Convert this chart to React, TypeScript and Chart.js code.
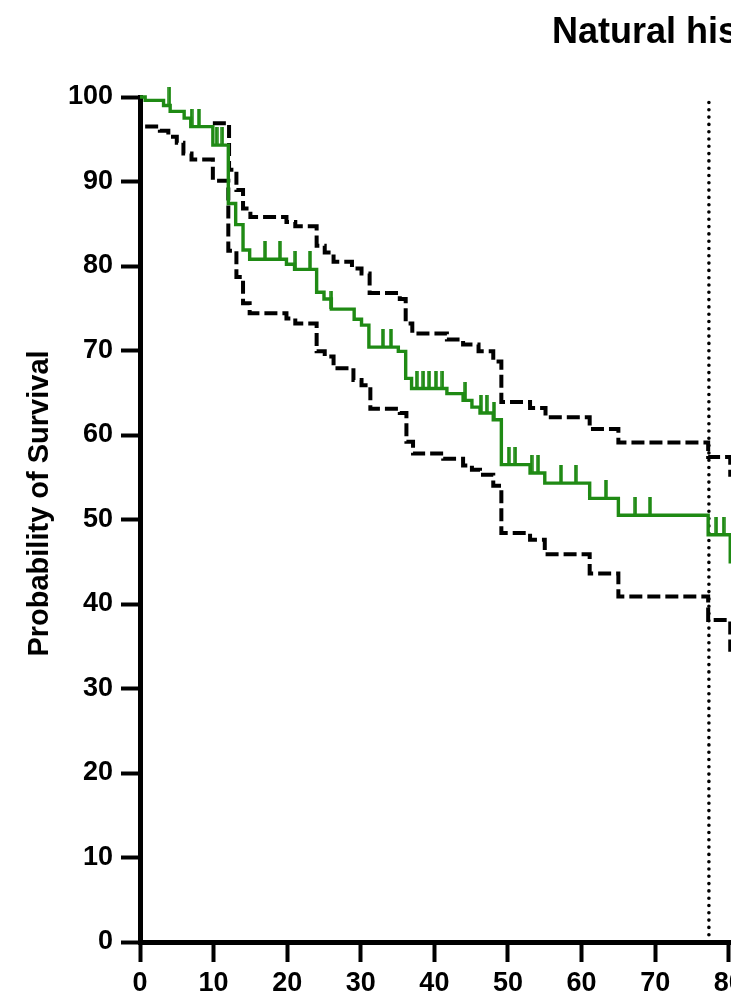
import { useEffect, useRef } from 'react';
import { Chart, registerables } from 'chart.js';

Chart.register(...registerables);

// ---- data ----
const titleText = 'Natural history';
const yAxisTitle = 'Probability of Survival';

const kmTimes = [0, 0.7, 3.2, 4.1, 6.0, 6.9, 9.9, 12.0, 13.0, 14.0, 14.9, 19.9, 21.0, 24.0, 25.0, 26.0, 29.1, 30.1, 31.1, 35.1, 36.1, 36.9, 41.7, 43.9, 45.1, 46.2, 48.0, 49.1, 53.0, 55.0, 61.1, 65.0, 77.2, 80.2, 85.0];
const kmSurvival = [100, 99.6, 99.0, 98.3, 97.5, 96.5, 94.3, 87.4, 84.9, 81.9, 80.8, 80.2, 79.6, 76.9, 76.1, 74.9, 73.7, 73.0, 70.4, 69.9, 66.7, 65.5, 64.9, 64.1, 63.3, 62.6, 61.8, 56.5, 55.5, 54.3, 52.5, 50.5, 48.2, 45.0, 45.0];

const upperTimes = [9.9, 12.1, 13.1, 14.0, 15.0, 19.9, 21.1, 24.0, 25.1, 26.3, 28.8, 30.1, 31.2, 35.3, 36.1, 37.0, 41.7, 43.9, 46.0, 48.0, 49.1, 53.0, 55.1, 61.1, 65.0, 77.2, 80.2, 85.0];
const upperValues = [96.9, 91.4, 89.0, 86.8, 85.8, 85.2, 84.7, 82.4, 81.6, 80.5, 79.7, 79.1, 76.8, 76.1, 73.2, 72.0, 71.3, 70.7, 69.9, 68.7, 63.9, 63.2, 62.1, 60.7, 59.1, 57.4, 55.3, 55.3];

const lowerTimes = [0.7, 2.7, 3.85, 5.0, 5.9, 7.0, 9.9, 12.0, 13.1, 14.0, 14.9, 19.9, 21.1, 24.0, 25.1, 26.3, 29.0, 30.1, 31.3, 35.3, 36.2, 37.1, 41.2, 43.9, 45.1, 46.2, 48.0, 49.1, 53.0, 55.0, 61.1, 65.0, 77.2, 80.2, 85.0];
const lowerValues = [96.5, 96.0, 95.3, 94.6, 93.3, 92.6, 90.1, 81.8, 78.7, 75.6, 74.4, 73.8, 73.2, 69.9, 69.3, 67.9, 66.5, 65.9, 63.1, 62.6, 59.2, 57.8, 57.2, 56.4, 55.9, 55.3, 54.0, 48.4, 47.6, 45.9, 43.6, 40.9, 38.1, 34.6, 34.6];

const censorTimes = [4.0, 7.0, 8.0, 10.4, 11.2, 17.0, 19.0, 21.1, 23.1, 26.0, 33.0, 34.1, 37.6, 38.5, 39.3, 40.2, 41.1, 44.2, 46.3, 47.1, 48.1, 50.1, 51.0, 53.2, 54.1, 57.2, 59.2, 63.3, 67.3, 69.3, 78.3, 79.3];

const referenceMonth = 77.3;
const yMin = 0;
const yMax = 100;
const tickStep = 10;

// ---- layout / style ----
const FONT = "Arial, 'Liberation Sans', Helvetica, sans-serif";
const GREEN = '#1f8a14';
const HEIGHT = 1001;
const VISIBLE_WIDTH = 731;
const PLOT_LEFT = 140;
const PX_PER_MONTH = 7.36;
const TITLE_LEFT = 552;

function survivalAt(t: number): number {
  let v = kmSurvival[0];
  for (let i = 0; i < kmTimes.length; i++) {
    if (kmTimes[i] <= t) v = kmSurvival[i];
  }
  return v;
}

const yTitlePlugin = {
  id: 'yTitle',
  afterDraw(chart: any) {
    const { ctx, chartArea } = chart;
    ctx.save();
    ctx.font = `bold 29px ${FONT}`;
    ctx.fillStyle = '#000';
    ctx.textAlign = 'center';
    ctx.textBaseline = 'middle';
    ctx.translate(40, (chartArea.top + chartArea.bottom) / 2 - 16);
    ctx.rotate(-Math.PI / 2);
    ctx.fillText(yAxisTitle, 0, 0);
    ctx.restore();
  },
};

export default function App() {
  const canvasRef = useRef<HTMLCanvasElement | null>(null);

  useEffect(() => {
    const canvas = canvasRef.current;
    if (!canvas) return;

    const m = document.createElement('canvas').getContext('2d')!;
    m.font = `bold 36px ${FONT}`;
    const tw = m.measureText(titleText).width;
    const plotRight = 2 * TITLE_LEFT + tw;
    const padRight = 40;
    const width = Math.round(plotRight + padRight);
    const xMax = (plotRight - PLOT_LEFT) / PX_PER_MONTH;

    canvas.width = width;
    canvas.height = HEIGHT;
    canvas.style.width = width + 'px';
    canvas.style.height = HEIGHT + 'px';

    const tick = document.createElement('canvas');
    tick.width = 4;
    tick.height = 36;
    const tctx = tick.getContext('2d')!;
    tctx.fillStyle = GREEN;
    tctx.fillRect(0.25, 0, 3.5, 18);

    const chart = new Chart(canvas, {
      type: 'line',
      data: {
        datasets: [
          {
            label: 'Survival',
            data: kmTimes.map((t, i) => ({ x: t, y: kmSurvival[i] })),
            borderColor: GREEN,
            borderWidth: 3.4,
            stepped: true,
            pointRadius: 0,
            fill: false,
            clip: false as any,
          },
          {
            label: 'Censored',
            data: censorTimes.map((t) => ({ x: t, y: survivalAt(t) })),
            showLine: false,
            pointStyle: tick as any,
            pointRadius: 3,
            borderColor: GREEN,
            backgroundColor: GREEN,
            clip: false as any,
          },
          {
            label: 'Upper 95% CI',
            data: upperTimes.map((t, i) => ({ x: t, y: upperValues[i] })),
            borderColor: '#000',
            borderWidth: 4,
            borderDash: [13, 5],
            stepped: true,
            pointRadius: 0,
            fill: false,
            clip: false as any,
          },
          {
            label: 'Lower 95% CI',
            data: lowerTimes.map((t, i) => ({ x: t, y: lowerValues[i] })),
            borderColor: '#000',
            borderWidth: 4,
            borderDash: [13, 5],
            stepped: true,
            pointRadius: 0,
            fill: false,
            clip: false as any,
          },
          {
            label: 'Reference',
            data: [
              { x: referenceMonth, y: yMin },
              { x: referenceMonth, y: yMax },
            ],
            borderColor: '#000',
            borderWidth: 3.6,
            borderDash: [0, 7.3],
            borderCapStyle: 'round',
            pointRadius: 0,
            fill: false,
          },
        ],
      },
      options: {
        responsive: false,
        animation: false,
        devicePixelRatio: 1,
        layout: { padding: { left: 0, right: padRight, top: 0, bottom: 0 } },
        plugins: {
          legend: { display: false },
          tooltip: { enabled: false },
          title: {
            display: true,
            text: titleText,
            color: '#000',
            font: { family: FONT, size: 36, weight: 'bold' },
            padding: { top: 11, bottom: 42.8 },
          },
        },
        scales: {
          x: {
            type: 'linear',
            min: 0,
            max: xMax,
            afterFit: (s: any) => {
              s.height = HEIGHT - 942;
            },
            ticks: {
              stepSize: tickStep,
              color: '#000',
              font: { family: FONT, size: 27, weight: 'bold' },
              padding: 5,
              maxRotation: 0,
              autoSkip: false,
            },
            grid: {
              drawOnChartArea: false,
              drawTicks: true,
              tickLength: 20,
              tickWidth: 4,
              tickColor: '#000',
            },
            border: { display: true, color: '#000', width: 5 },
          },
          y: {
            type: 'linear',
            min: yMin,
            max: yMax,
            afterFit: (s: any) => {
              s.width = PLOT_LEFT;
            },
            ticks: {
              stepSize: tickStep,
              color: '#000',
              font: { family: FONT, size: 27, weight: 'bold' },
              padding: 8,
            },
            grid: {
              drawOnChartArea: false,
              drawTicks: true,
              tickLength: 19,
              tickWidth: 4,
              tickColor: '#000',
            },
            border: { display: true, color: '#000', width: 5 },
          },
        },
      } as any,
      plugins: [yTitlePlugin],
    });

    return () => {
      chart.destroy();
    };
  }, []);

  return (
    <div
      style={{
        position: 'absolute',
        left: 0,
        top: 0,
        width: VISIBLE_WIDTH,
        height: HEIGHT,
        overflow: 'hidden',
        background: '#fff',
      }}
    >
      <canvas ref={canvasRef} />
    </div>
  );
}
